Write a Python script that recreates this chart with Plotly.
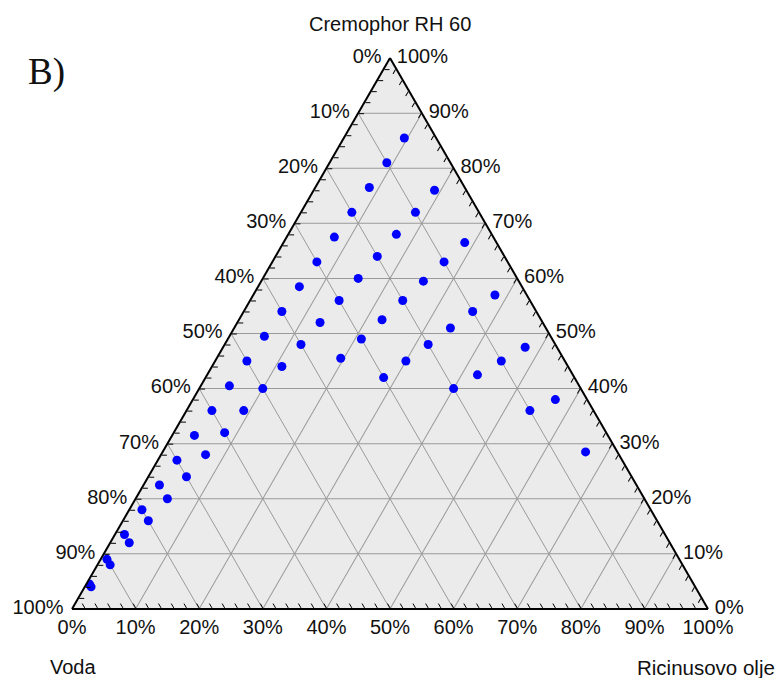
import plotly.graph_objects as go

# Dilution lines (Cremophor RH 60 : Ricinusovo olje ratio fixed, water added)
# Each point: voda %, cremophor %, ricinus %
voda_91 = [5, 10, 15, 20, 25, 30, 35, 40, 45, 50, 55, 60, 65, 70, 75, 80, 85, 90, 95]
crem_91 = [85.5, 81, 76.5, 72, 67.5, 63, 58.5, 54, 49.5, 45, 40.5, 36, 31.5, 27, 22.5, 18, 13.5, 9, 4.5]
ric_91 = [9.5, 9, 8.5, 8, 7.5, 7, 6.5, 6, 5.5, 5, 4.5, 4, 3.5, 3, 2.5, 2, 1.5, 1, 0.5]

voda_82 = [5, 10, 15, 20, 25, 30, 35, 40, 45, 50, 55, 60, 65, 70, 75, 80, 85, 90, 95]
crem_82 = [76, 72, 68, 64, 60, 56, 52, 48, 44, 40, 36, 32, 28, 24, 20, 16, 12, 8, 4]
ric_82 = [19, 18, 17, 16, 15, 14, 13, 12, 11, 10, 9, 8, 7, 6, 5, 4, 3, 2, 1]

voda_73 = [5, 10, 15, 20, 25, 30, 35]
crem_73 = [66.5, 63, 59.5, 56, 52.5, 49, 45.5]
ric_73 = [28.5, 27, 25.5, 24, 22.5, 21, 19.5]

voda_64 = [5, 10, 15, 20, 25, 30]
crem_64 = [57, 54, 51, 48, 45, 42]
ric_64 = [38, 36, 34, 32, 30, 28]

voda_55 = [5, 10, 15, 20]
crem_55 = [47.5, 45, 42.5, 40]
ric_55 = [47.5, 45, 42.5, 40]

voda_46 = [5, 10]
crem_46 = [38, 36]
ric_46 = [57, 54]

voda_37 = [5]
crem_37 = [28.5]
ric_37 = [66.5]

series = [
    (voda_91, crem_91, ric_91),
    (voda_82, crem_82, ric_82),
    (voda_73, crem_73, ric_73),
    (voda_64, crem_64, ric_64),
    (voda_55, crem_55, ric_55),
    (voda_46, crem_46, ric_46),
    (voda_37, crem_37, ric_37),
]

major_vals = [0, 10, 20, 30, 40, 50, 60, 70, 80, 90, 100]
minor_vals = list(range(0, 101, 2))

W, H = 779, 678
ML, MR, MT, MB = 72, 71, 58, 69
PW, PH = W - ML - MR, H - MT - MB


def px(x):
    return (x - ML) / PW


def py(y):
    return 1 - (y - MT) / PH


FONT = "Liberation Sans, Arial, sans-serif"
DOMAIN = dict(x=[0, 1], y=[0, 1])
NBSP = "\u00a0"
THIN = "\u2009"

fig = go.Figure()
# empty trace on the background ternary (grid layer)
fig.add_trace(go.Scatterternary(a=[], b=[], c=[], subplot="ternary", showlegend=False))
for v, cr, ri in series:
    fig.add_trace(go.Scatterternary(
        a=cr, b=v, c=ri, mode="markers", subplot="ternary2",
        marker=dict(color="#0000ff", size=9, line=dict(width=0)),
        showlegend=False, hoverinfo="a+b+c",
    ))

grid_axis = dict(
    tickmode="array", tickvals=major_vals, showticklabels=False, ticks="",
    showgrid=True, gridcolor="#9a9a9a", gridwidth=1, showline=False, title=dict(text=""),
)


def label_axis(prefix="", suffix=""):
    return dict(
        tickmode="array", tickvals=minor_vals,
        ticktext=[(prefix + str(100 - v) + "%" + suffix) if v % 10 == 0 else "" for v in minor_vals],
        ticks="inside", ticklen=5, tickwidth=1.3, tickcolor="black",
        showgrid=False, showline=True, linecolor="black", linewidth=2,
        tickfont=dict(family=FONT, size=20, color="#111111"),
        title=dict(text=""),
    )


fig.update_layout(
    ternary=dict(
        sum=100, bgcolor="#ebebeb", domain=DOMAIN,
        aaxis=grid_axis, baxis=grid_axis, caxis=grid_axis,
    ),
    ternary2=dict(
        sum=100, bgcolor="rgba(0,0,0,0)", domain=DOMAIN,
        aaxis=label_axis(suffix=NBSP), baxis=label_axis(), caxis=label_axis(prefix=THIN),
    ),
    width=W, height=H,
    margin=dict(l=ML, r=MR, t=MT, b=MB, pad=0, autoexpand=False),
    paper_bgcolor="white",
    showlegend=False,
    annotations=[
        dict(text="Cremophor RH 60", x=px(390), y=py(24), xref="paper", yref="paper",
             showarrow=False, xanchor="center", yanchor="middle",
             font=dict(family=FONT, size=20, color="#111111")),
        dict(text="Voda", x=px(73), y=py(667), xref="paper", yref="paper",
             showarrow=False, xanchor="center", yanchor="middle",
             font=dict(family=FONT, size=20, color="#111111")),
        dict(text="Ricinusovo olje", x=px(706), y=py(667), xref="paper", yref="paper",
             showarrow=False, xanchor="center", yanchor="middle",
             font=dict(family=FONT, size=20.5, color="#111111")),
        dict(text="B)", x=px(26), y=py(72), xref="paper", yref="paper",
             showarrow=False, xanchor="left", yanchor="middle",
             font=dict(family="Liberation Serif, Times New Roman, serif", size=37, color="#111111")),
    ],
)

fig.write_html(
    "out.html",
    config={"displayModeBar": False},
    post_script="document.body.style.margin='0px';",
)
